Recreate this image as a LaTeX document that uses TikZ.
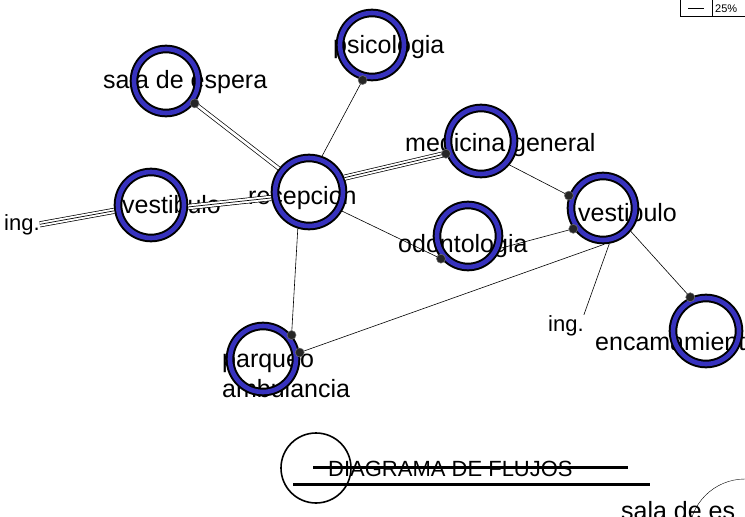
\documentclass[tikz,border=0pt]{standalone}
\usepackage{fontspec}
\setmainfont{Liberation Sans}
\definecolor{azulanillo}{RGB}{55,50,190}
\begin{document}
\begin{tikzpicture}[x=1pt, y=-1pt, thin,
    anillo/.style={circle, draw=black, line width=2pt, double=azulanillo, double distance=4.6pt,
      minimum size=#1, inner sep=0pt, outer sep=4.3pt},
    anillo/.default=64,
    etiq/.style={anchor=base west, inner sep=0pt, font=\fontsize{25}{28}\selectfont},
    chica/.style={etiq, font=\fontsize{22}{24}\selectfont},
    simple/.style={line width=0.6pt},
    doble/.style={line width=4.2pt, postaction={draw, white, line width=2.8pt}},
    triple/.style={line width=6pt, postaction={draw, white, line width=4.6pt},
      postaction={draw, black, line width=0.7pt}},
    union/.style={circle, fill=black!85, draw=black!55, line width=0.5pt, minimum size=9pt, inner sep=0pt}]
  % 0. marco
  \useasboundingbox (0,0) rectangle (745,517);
  \clip (0,0) rectangle (745,517);
  \fill[white] (0,0) rectangle (745,517);

  % 1. textos (debajo de los anillos)
  \node[etiq] (tPsi) at (333,53) {psicologia};
  \node[etiq] (tSala) at (103,88) {sala de espera};
  \node[etiq] (tMed) at (405,151) {medicina general};
  \node[etiq] (tRec) at (248,204) {recepcion};
  \node[etiq] (tVestL) at (122,213) {vestibulo};
  \node[chica] (ingL) at (4,230) {ing.};
  \node[etiq] (tOdo) at (398,252) {odontologia};
  \node[etiq] (tVestR) at (578,221) {vestibulo};
  \node[chica] (ingR) at (548,331) {ing.};
  \node[etiq] (tEnc) at (595,350) {encamamiento};
  \node[etiq] (tParq) at (222,367) {parqueo};
  \node[etiq] (tAmb) at (222,397) {ambulancia};
  \node[etiq] (tSala2) at (621,519) {sala de es};

  % 2. anillos
  \node[anillo] (psi) at (372,45) {};
  \node[anillo] (sala) at (166,81) {};
  \node[anillo=66] (med) at (481,141) {};
  \node[anillo=68] (rec) at (309,192) {};
  \node[anillo=66] (vestL) at (151,205) {};
  \node[anillo=62] (odo) at (468,236) {};
  \node[anillo] (vestR) at (603,208) {};
  \node[anillo=66] (enc) at (706,331) {};
  \node[anillo=66] (parq) at (263,359) {};

  % 3. flujos
  \draw[triple] (ingL.east) -- (vestL.189);
  \draw[triple] (vestL.-3) -- (rec.189);
  \draw[doble] (sala.-38) -- (rec.142);
  \draw[simple] (psi.-105) -- (rec.70);
  \draw[triple] (rec.22) -- (med.200);
  \draw[simple] (med.-40) -- (vestR.160);
  \draw[simple] (rec.-30) -- (odo.220);
  \draw[simple] (odo.-20) -- (vestR.215);
  \draw[simple] (vestR.-88) -- (parq.10);
  \draw[simple] (vestR.-80) -- (ingR.north east);
  \draw[simple] (vestR.-40) -- (enc.115);
  \draw[simple] (rec.-107) -- (parq.40);

  % 4. uniones
  \foreach \p [count=\i] in {sala.-38, psi.-105, med.200, vestR.160, vestR.215,
      odo.220, parq.40, parq.10, enc.115}
    \node[union] (u\i) at (\p) {};

  % 5. titulo
  \node[circle, draw, line width=1.6pt, minimum size=70pt, inner sep=0pt] (circTit) at (316,468) {};
  \node[etiq, font=\fontsize{22}{24}\selectfont] (titulo) at (328,476) {DIAGRAMA DE FLUJOS};
  \draw[line width=3pt] (313,467) -- (628,467);
  \draw[line width=3pt] (293,484) -- (650,484);
  \draw[thin] (745,535) circle (56);

  % 6. escala
  \draw[thin] (680,-2) rectangle (746,16);
  \draw[thin] (712,-2) -- (712,16);
  \draw[thin] (688,8) -- (704,8);
  \node[anchor=base west, inner sep=0pt, font=\fontsize{11}{12}\selectfont] (escala) at (715,12) {25\%};
\end{tikzpicture}
\end{document}
